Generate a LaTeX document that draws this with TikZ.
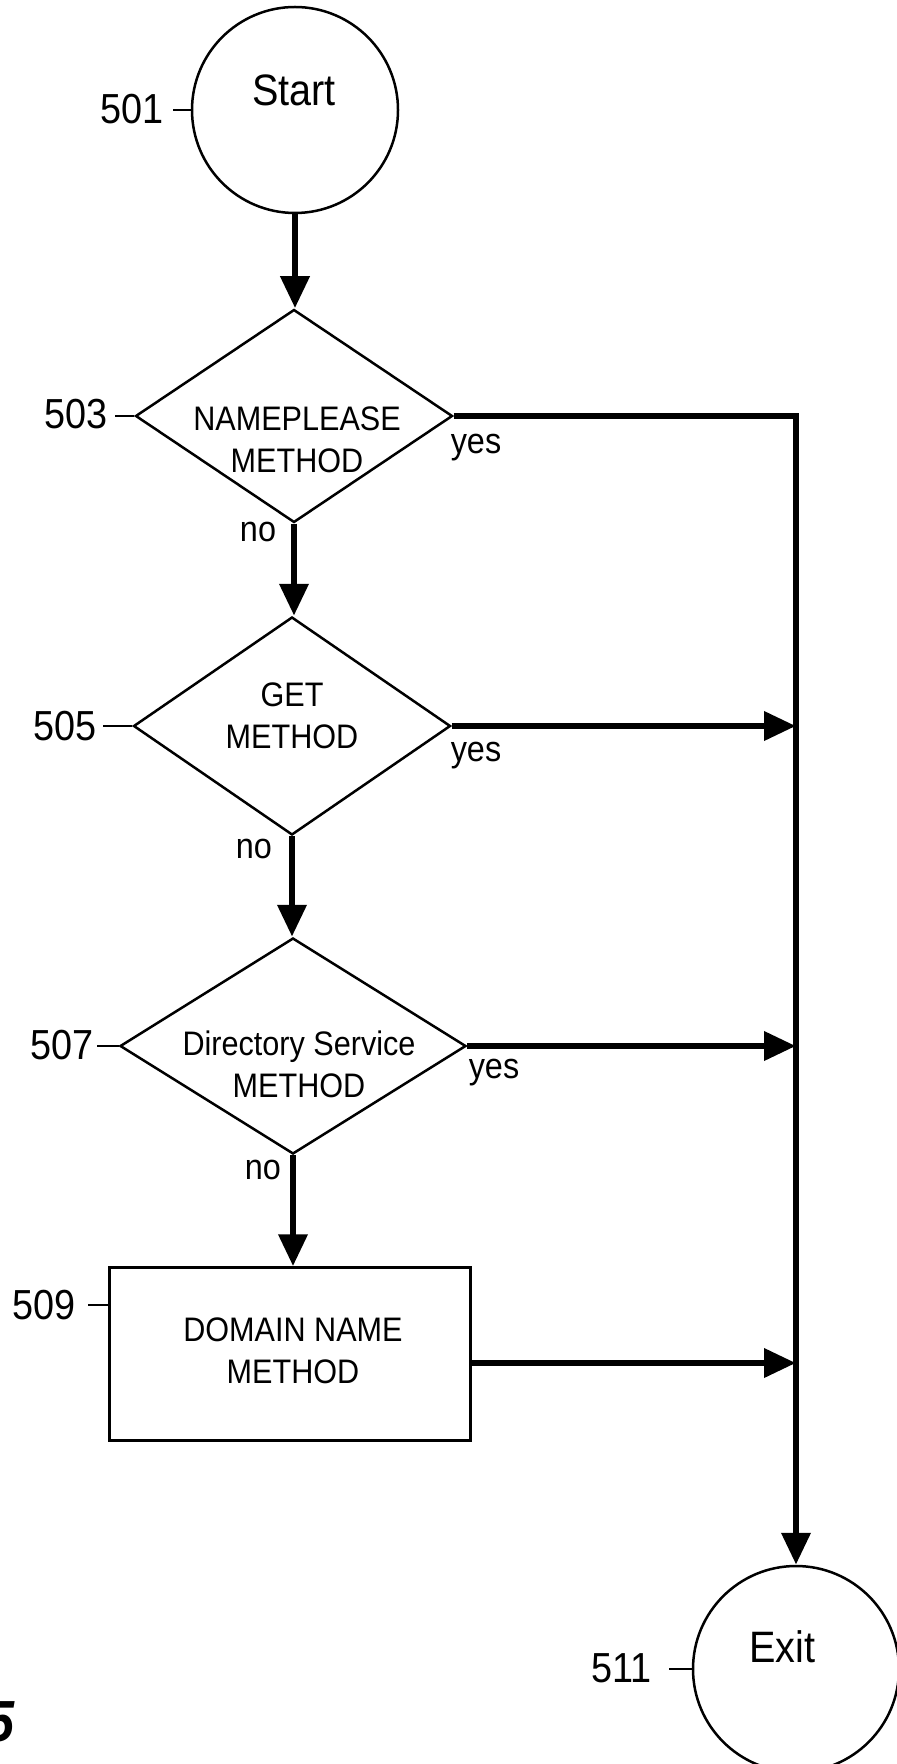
\documentclass[tikz,border=0pt]{standalone}
\usepackage{fontspec}
\setmainfont{Liberation Sans}[FakeStretch=0.9]
\usetikzlibrary{shapes.geometric,arrows.meta}
\begin{document}
\begin{tikzpicture}[x=0.5pt,y=-0.5pt,
  thinline/.style={line width=1.25pt},
  flow/.style={line width=3.4pt,line join=miter,-{Triangle[length=16pt,width=14pt]}},
  term/.style={circle,draw,thinline,minimum size=103pt,inner sep=0pt},
  dec/.style={diamond,draw,thinline,inner sep=0pt},
  procbox/.style={rectangle,draw,thinline,inner sep=0pt},
  txt/.style={font=\fontsize{17}{21}\selectfont,align=center,inner sep=0pt},
  bigtxt/.style={font=\fontsize{22}{26}\selectfont,inner sep=0pt},
  reflabel/.style={font=\fontsize{21}{24}\selectfont,inner sep=0pt,anchor=east},
  yn/.style={font=\fontsize{18}{22}\selectfont,inner sep=0pt},
  tick/.style={line width=0.9pt}]
\useasboundingbox (0,0) rectangle (897,1764);
\clip (0,0) rectangle (897,1764);

% shapes
\node[term] (start) at (295,110) {};
\node[dec,minimum width=158.5pt,minimum height=106.5pt] (d503) at (294,416) {};
\node[dec,minimum width=158.5pt,minimum height=109pt] (d505) at (292,726) {};
\node[dec,minimum width=173pt,minimum height=108pt] (d507) at (293,1046) {};
\node[procbox,minimum width=180.5pt,minimum height=86.5pt] (r509) at (290,1354) {};
\node[term] (exit) at (796,1669) {};

% texts
\node[bigtxt] (tstart) at (294,90) {Start};
\node[txt] (t503) at (297,440) {NAMEPLEASE\\METHOD};
\node[txt] (t505) at (292,716) {GET\\METHOD};
\node[txt] (t507) at (299,1064) {Directory Service\\METHOD};
\node[txt] (t509) at (293,1351) {DOMAIN NAME\\METHOD};
\node[bigtxt] (texit) at (782,1647) {Exit};

% reference numerals
\node[reflabel] (l501) at (164,109) {501};
\draw[tick] (start.west) -- ++(-18,0);
\node[reflabel] (l503) at (108,414) {503};
\draw[tick] (d503.west) -- ++(-19,0);
\node[reflabel] (l505) at (97,726) {505};
\draw[tick] (d505.west) -- ++(-29,0);
\node[reflabel] (l507) at (94,1045) {507};
\draw[tick] (d507.west) -- ++(-22,0);
\node[reflabel] (l509) at (76,1305) {509};
\draw[tick] ([yshift=-19.5pt]r509.north west) -- ++(-20,0);
\node[reflabel] (l511) at (652,1668) {511};
\draw[tick] (exit.west) -- ++(-23,0);

% yes / no
\node[yn] (y503) at (476,448) {yes};
\node[yn] (n503) at (258,532) {no};
\node[yn] (y505) at (476,756) {yes};
\node[yn] (n505) at (254,849) {no};
\node[yn] (y507) at (494,1073) {yes};
\node[yn] (n507) at (263,1170) {no};

% connectors
\draw[flow] (start.south) -- (start.south |- d503.north);
\draw[flow] (d503.south) -- (d503.south |- d505.north);
\draw[flow] (d505.south) -- (d505.south |- d507.north);
\draw[flow] (d507.south) -- (d507.south |- r509.north);
\coordinate (corner) at (d503.east -| exit.north);
\draw[flow] (d503.east) -- (corner) -- (exit.north);
\draw[flow] (d505.east) -- (d505.east -| exit.north);
\draw[flow] (d507.east) -- (d507.east -| exit.north);
\draw[flow] ([yshift=-4.5pt]r509.east) -- ([yshift=-4.5pt]r509.east -| exit.north);

% figure number (cut off at the left edge, as in the reference)
\node[font=\fontsize{29}{30}\selectfont\bfseries\itshape,inner sep=0pt,anchor=east] (fig) at (15,1722) {5};
\end{tikzpicture}
\end{document}
